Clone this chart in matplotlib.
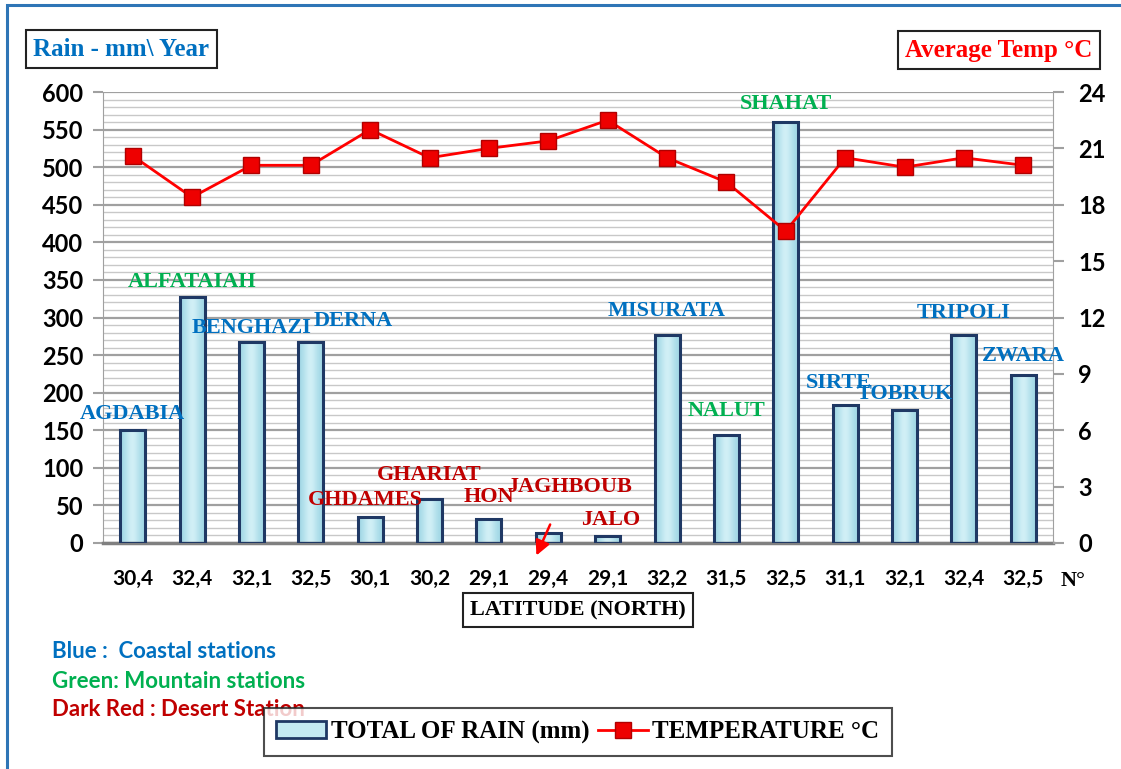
import numpy as np
import matplotlib.pyplot as plt
from matplotlib.patches import Rectangle, Patch
from matplotlib.lines import Line2D
from matplotlib.ticker import MultipleLocator

latitudes = ["30,4", "32,4", "32,1", "32,5", "30,1", "30,2", "29,1", "29,4",
             "29,1", "32,2", "31,5", "32,5", "31,1", "32,1", "32,4", "32,5"]
stations = ["AGDABIA", "ALFATAIAH", "BENGHAZI", "DERNA", "GHDAMES", "GHARIAT",
            "HON", "JAGHBOUB", "JALO", "MISURATA", "NALUT", "SHAHAT", "SIRTE",
            "TOBRUK", "TRIPOLI", "ZWARA"]
station_type = ["coast", "mount", "coast", "coast", "desert", "desert", "desert",
                "desert", "desert", "coast", "mount", "mount", "coast", "coast",
                "coast", "coast"]
rain = [150, 327, 267, 267, 35, 58, 32, 13, 9, 277, 144, 560, 184, 177, 277, 224]
temp = [20.6, 18.4, 20.1, 20.1, 22.0, 20.5, 21.0, 21.4, 22.5, 20.5, 19.2, 16.6,
        20.5, 20.0, 20.5, 20.1]
# label anchor (x offset in bar units, y in mm)
label_dx = [0.0, 0.0, 0.0, 0.72, -0.08, 0.0, 0.0, 0.35, 0.05, 0.0, 0.0, 0.0,
            -0.1, 0.0, 0.0, 0.0]
label_y = [171, 347, 286, 296, 57, 90, 61, 74, 30, 308, 175, 584, 213, 198, 306, 249]

colors = {"coast": "#0070C0", "mount": "#00B050", "desert": "#C00000"}

W, H = 1121, 769
fig = plt.figure(figsize=(W / 100, H / 100), dpi=100)
ax = fig.add_axes([103 / W, 1 - 543 / H, 950 / W, 451 / H])
ax2 = ax.twinx()

x = np.arange(len(rain))
ax.set_xlim(-0.5, len(rain) - 0.5)
ax.set_ylim(0, 600)
ax.yaxis.set_major_locator(MultipleLocator(50))
ax.yaxis.set_minor_locator(MultipleLocator(10))
ax.grid(axis="y", which="minor", color="#C8C8C8", lw=1.0, zorder=0)
ax.grid(axis="y", which="major", color="#A0A0A0", lw=1.6, zorder=0)
ax.set_axisbelow(True)

# bars with a light glassy gradient
grad = np.array([[0.0, 0.5, 1.0, 0.5, 0.0]])
cmap = plt.matplotlib.colors.LinearSegmentedColormap.from_list("g", ["#A2D8E6", "#DAF4F9"])
bars = ax.bar(x, rain, width=0.42, facecolor="none", edgecolor="#1F3864",
              lw=2.2, zorder=3)
for b in bars:
    x0, y0, w, h = b.get_x(), b.get_y(), b.get_width(), b.get_height()
    im = ax.imshow(grad, cmap=cmap, extent=[x0, x0 + w, y0, y0 + h],
                   aspect="auto", zorder=2, interpolation="bicubic")
    im.set_clip_path(b)

ax.set_xticks(x)
ax.set_xticklabels(latitudes, fontfamily="Lato", fontweight="bold", fontsize=15)
ax.tick_params(axis="x", length=0, pad=19)
ax.tick_params(axis="y", which="major", length=7, color="#A0A0A0", width=1.5,
               labelsize=17, pad=7)
ax.tick_params(axis="y", which="minor", length=0)
for t in ax.get_yticklabels():
    t.set_fontfamily("Lato")
    t.set_fontweight("bold")
ax.spines["top"].set_visible(False)
ax.spines["left"].set_color("#A0A0A0")
ax.spines["bottom"].set_color("#808080")
ax.spines["bottom"].set_linewidth(2.5)
ax.spines["right"].set_visible(False)

ax2.set_ylim(0, 24)
ax2.yaxis.set_major_locator(MultipleLocator(3))
ax2.plot(x, temp, color="#FF0000", lw=2, marker="s", markersize=12,
         markerfacecolor="#EE0000", markeredgecolor="#B00000", zorder=5)
ax2.tick_params(axis="y", length=8, color="#A0A0A0", width=1.5, labelsize=17, pad=10)
for t in ax2.get_yticklabels():
    t.set_fontfamily("Lato")
    t.set_fontweight("bold")
ax2.spines["right"].set_color("#A0A0A0")
for s in ["top", "left", "bottom"]:
    ax2.spines[s].set_visible(False)

for i, name in enumerate(stations):
    ax2.text(i + label_dx[i], label_y[i] / 25.0, name, ha="center", va="center",
             color=colors[station_type[i]], fontfamily="Liberation Serif",
             fontweight="bold", fontsize=16, zorder=6)

# arrow under JAGHBOUB bar
ax.annotate("", xy=(6.78, -20), xytext=(7.05, 28),
            arrowprops=dict(arrowstyle="-|>", color="#FF0000", lw=1.8,
                            mutation_scale=22), annotation_clip=False, zorder=7)

ax.text(1.008, -0.085, "N°", transform=ax.transAxes, fontfamily="Liberation Serif",
        fontweight="bold", fontsize=16, ha="left", va="center")

box = dict(boxstyle="square,pad=0.3", facecolor="white", edgecolor="#222222", lw=1.5)
fig.text(121 / W, 1 - 49 / H, "Rain - mm\\ Year", ha="center", va="center",
         color="#0070C0", fontfamily="Liberation Serif", fontweight="bold",
         fontsize=18, bbox=box)
fig.text(999 / W, 1 - 50 / H, "Average Temp °C", ha="center", va="center",
         color="#FF0000", fontfamily="Liberation Serif", fontweight="bold",
         fontsize=18, bbox=box)
fig.text(578 / W, 1 - 610 / H, "LATITUDE (NORTH)", ha="center", va="center",
         color="black", fontfamily="Liberation Serif", fontweight="bold",
         fontsize=16, bbox=box)

fig.text(52 / W, 1 - 652 / H, "Blue :  Coastal stations", color="#0070C0",
         fontfamily="Lato", fontweight="bold", fontsize=16, va="center")
fig.text(52 / W, 1 - 681 / H, "Green: Mountain stations", color="#00B050",
         fontfamily="Lato", fontweight="bold", fontsize=16, va="center")
fig.text(52 / W, 1 - 709 / H, "Dark Red : Desert Station", color="#C00000",
         fontfamily="Lato", fontweight="bold", fontsize=16, va="center")

handles = [Patch(facecolor="#C4EAF2", edgecolor="#1F3864", lw=2),
           Line2D([], [], color="#FF0000", lw=2, marker="s", markersize=12,
                  markerfacecolor="#EE0000", markeredgecolor="#B00000")]
leg = fig.legend(handles, ["TOTAL OF RAIN (mm)", "TEMPERATURE °C"], ncol=2,
                 loc="center", bbox_to_anchor=(578 / W, 1 - 732 / H),
                 prop=dict(family="Liberation Serif", weight="bold", size=18),
                 frameon=True, fancybox=False, edgecolor="#222222",
                 handlelength=2.0, handletextpad=0.2, columnspacing=0.3,
                 borderpad=0.5, borderaxespad=0)
leg.get_frame().set_linewidth(1.5)

# outer blue border
fig.patches.append(Rectangle((7 / W, -0.1), 1.2, 1.1 - 5 / H, transform=fig.transFigure,
                             fill=False, edgecolor="#2E75B6", lw=2.2))

fig.savefig("out.png", dpi=100)
